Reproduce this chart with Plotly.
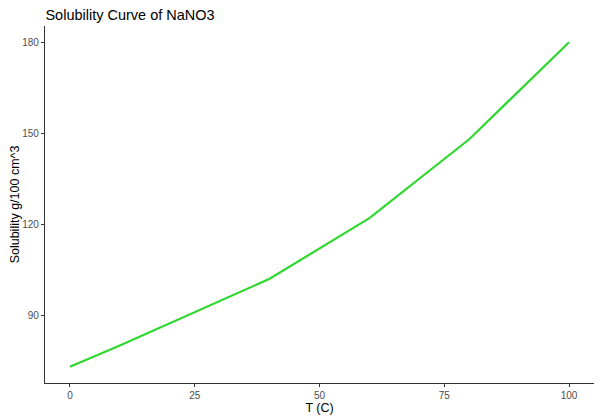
import plotly.graph_objects as go

temps = [0, 10, 40, 60, 80, 100]
solubility = [73, 80, 102, 122, 148, 180]

x_ticks = [0, 25, 50, 75, 100]
y_ticks = [90, 120, 150, 180]

fig = go.Figure(go.Scatter(
    x=temps, y=solubility, mode="lines",
    line=dict(color="#2fd82f", width=2.2),
    showlegend=False,
))

axis_style = dict(
    showgrid=False, zeroline=False, automargin=False,
    showline=True, linecolor="#333333", linewidth=1.1,
    ticks="outside", ticklen=3, tickcolor="#333333",
    tickfont=dict(size=10, color="#4d4d4d"),
)

# page body adds an 8px offset, so the figure is a bit smaller than the window
fig.update_layout(
    width=594, height=412,
    paper_bgcolor="white", plot_bgcolor="white",
    font=dict(family="Liberation Sans, Arial, sans-serif", color="black"),
    title=dict(text="Solubility Curve of NaNO3", x=0.063, xanchor="left",
               yref="container", y=0.983, yanchor="middle",
               font=dict(size=14.5, color="black")),
    margin=dict(l=37, r=8, t=18, b=37, autoexpand=False),
)
fig.update_xaxes(axis_style, range=[-5, 105], tickvals=x_ticks,
                 title=dict(text="T (C)", font=dict(size=12.5), standoff=3))
fig.update_yaxes(axis_style, range=[67.65, 185.35], tickvals=y_ticks,
                 title=dict(text="Solubility g/100 cm^3", font=dict(size=12.5), standoff=2))

fig.write_html("out.html")
